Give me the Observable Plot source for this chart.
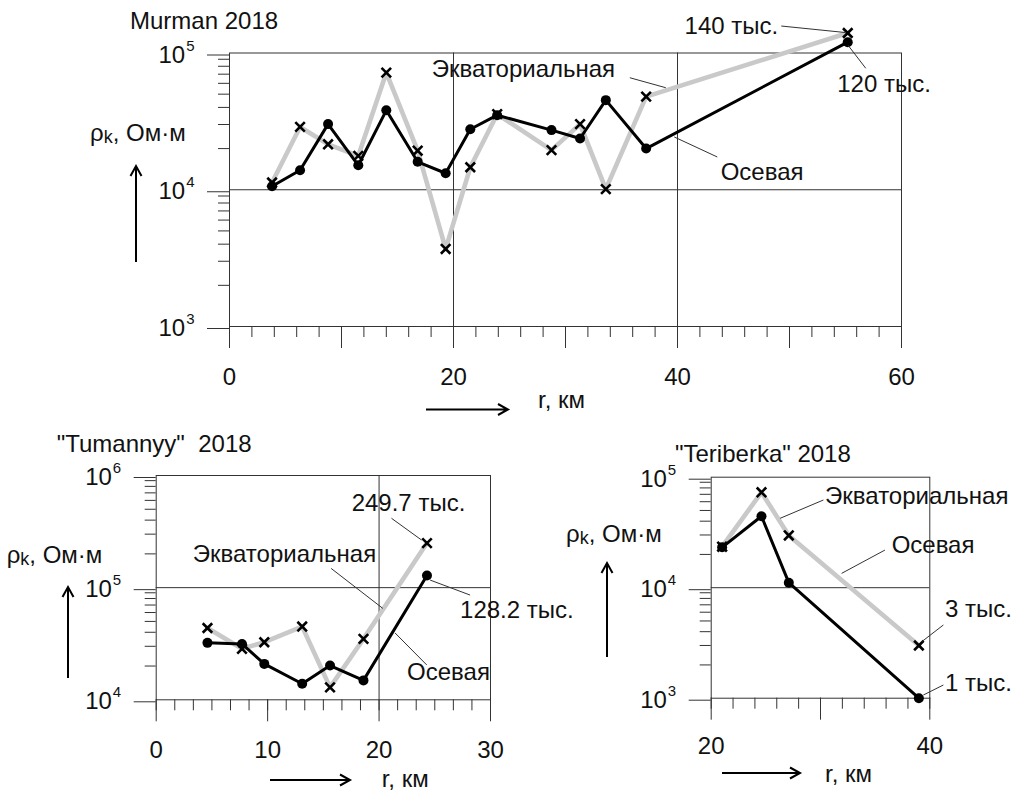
<!DOCTYPE html>
<html>
<head>
<meta charset="utf-8">
<script src="https://cdn.jsdelivr.net/npm/d3@7"></script>
<script src="https://cdn.jsdelivr.net/npm/@observablehq/plot@0.6"></script>
<style>
  html, body { margin: 0; padding: 0; background: #fff; }
  #fig { position: relative; width: 1015px; height: 791px; overflow: hidden; }
  #fig svg { position: absolute; overflow: visible; }
</style>
</head>
<body>
<div id="fig"></div>
<script>
// Apparent resistivity ρk (Ω·m) against distance r (km), two profiles per site.

// Murman 2018
const murmanR = [3.8, 6.3, 8.8, 11.5, 14.0, 16.8, 19.3, 21.5, 23.9, 28.75, 31.3, 33.6, 37.2, 55.2];
const murmanAxial = [10600, 13900, 30200, 15100, 38100, 16000, 13200, 27700, 35100, 27300, 23700, 45200, 20000, 120000];
const murmanEquatorial = [11300, 28800, 21500, 17700, 71800, 19300, 3690, 14600, 35700, 19500, 30200, 10100, 48000, 140000];

// "Tumannyy" 2018
const tumannyyR = [4.6, 7.7, 9.7, 13.1, 15.6, 18.6, 24.3];
const tumannyyAxial = [32200, 31500, 20900, 13900, 20200, 14900, 128200];
const tumannyyEquatorial = [43700, 28500, 32600, 45000, 12900, 34900, 249700];

// "Teriberka" 2018
const teriberkaR = [21.0, 24.6, 27.1, 39.0];
const teriberkaAxial = [23200, 44300, 11100, 1000];
const teriberkaEquatorial = [23500, 73000, 29700, 3000];

// Text
const yLabelMain = "ρ", yLabelSub = "k", yLabelUnit = ", Ом·м";
const xLabelText = "r, км";
const axialName = "Осевая", equatorialName = "Экваториальная";
const thousandsLabel = v => `${+(v / 1000).toFixed(1)} тыс.`;

const FONT = "'Liberation Sans', Arial, sans-serif";
const FS = 24;

const rows = (r, axial, equatorial) => r.map((d, i) => ({r: d, axial: axial[i], equatorial: equatorial[i]}));
const decadesBetween = ([lo, hi]) => d3.range(Math.round(Math.log10(lo)), Math.round(Math.log10(hi)) + 1).map(e => 10 ** e);
const minorLog = ([lo, hi]) => decadesBetween([lo, hi]).slice(0, -1).flatMap(d => d3.range(2, 10).map(k => k * d));

// Line with an arrowhead, drawn relative to the plot frame
function arrowPath(x1, y1, x2, y2) {
  const a = Math.atan2(y2 - y1, x2 - x1), L = 10, W = 5.5;
  const bx = x2 - L * Math.cos(a), by = y2 - L * Math.sin(a);
  const nx = -Math.sin(a) * W, ny = Math.cos(a) * W;
  return `M${x1},${y1}L${x2},${y2}M${bx + nx},${by + ny}L${x2},${y2}L${bx - nx},${by - ny}`;
}

// Titles, axis names and direction arrows placed around the frame
function decorations(cfg) {
  return (index, scales, values, dim) => {
    const fl = dim.marginLeft, ft = dim.marginTop, fb = dim.height - dim.marginBottom;
    const g = d3.create("svg:g").attr("font-family", FONT).attr("font-size", FS).attr("fill", "#111")
      .attr("text-anchor", "start");
    g.append("text").attr("x", fl + cfg.title[0]).attr("y", ft + cfg.title[1]).attr("dy", "0.35em")
      .attr("xml:space", "preserve").style("white-space", "pre").text(cfg.titleText);
    const yl = g.append("text").attr("x", fl + cfg.yLabel[0]).attr("y", ft + cfg.yLabel[1]).attr("dy", "0.35em");
    yl.append("tspan").text(yLabelMain);
    yl.append("tspan").attr("font-size", 18).attr("dy", 2).text(yLabelSub);
    yl.append("tspan").attr("dy", -2).text(yLabelUnit);
    g.append("path").attr("fill", "none").attr("stroke", "#000").attr("stroke-width", 2)
      .attr("d", arrowPath(fl + cfg.yArrow[0], ft + cfg.yArrow[1], fl + cfg.yArrow[0], ft + cfg.yArrow[2]));
    g.append("path").attr("fill", "none").attr("stroke", "#000").attr("stroke-width", 2)
      .attr("d", arrowPath(fl + cfg.xArrow[0], fb + cfg.xArrow[2], fl + cfg.xArrow[1], fb + cfg.xArrow[2]));
    g.append("text").attr("x", fl + cfg.xLabel[0]).attr("y", fb + cfg.xLabel[1]).attr("dy", "0.35em").text(xLabelText);
    return g.node();
  };
}

// A label with a thin leader line, anchored on a data point (or on a segment leaving it)
function callout(data, c) {
  return (index, scales) => {
    const P = i => [scales.x(data[i].r), scales.y(data[i][c.key])];
    let [px, py] = P(c.at);
    if (c.t) {
      const [qx, qy] = P(c.at + 1);
      px += (qx - px) * c.t; py += (qy - py) * c.t;
    }
    const g = d3.create("svg:g");
    g.append("line").attr("stroke", "#333").attr("stroke-width", 1)
      .attr("x1", px + c.lead[0]).attr("y1", py + c.lead[1]).attr("x2", px + c.lead[2]).attr("y2", py + c.lead[3]);
    g.append("text").attr("font-family", FONT).attr("font-size", FS).attr("fill", "#111")
      .attr("text-anchor", c.anchor).attr("x", px + c.tx).attr("y", py + c.ty).attr("dy", "0.35em").text(c.text);
    return g.node();
  };
}

function panel(cfg) {
  const data = rows(cfg.r, cfg.axial, cfg.equatorial);
  const decades = decadesBetween(cfg.yDomain);
  const xTicks = d3.range(0, Math.round((cfg.xDomain[1] - cfg.xDomain[0]) / cfg.xStep) + 1).map(i => cfg.xDomain[0] + i * cfg.xStep);
  const xLong = d3.range(cfg.xDomain[0], cfg.xDomain[1] + 1e-9, 10);
  const ink = "#333";
  const svg = Plot.plot({
    width: cfg.width, height: cfg.height,
    marginLeft: cfg.margin[0], marginTop: cfg.margin[1], marginRight: cfg.margin[2], marginBottom: cfg.margin[3],
    style: {background: "transparent", overflow: "visible", fontFamily: FONT, fontSize: FS + "px", color: "#111"},
    x: {domain: cfg.xDomain},
    y: {type: "log", domain: cfg.yDomain},
    marks: [
      Plot.gridY(cfg.yGrid, {stroke: ink, strokeOpacity: 1}),
      Plot.gridX(cfg.xGrid, {stroke: ink, strokeOpacity: 1}),
      Plot.frame({stroke: ink}),
      Plot.axisY(minorLog(cfg.yDomain), {anchor: "left", tickSize: 11, tickFormat: () => "", stroke: ink, label: null}),
      Plot.axisY(decades, {anchor: "left", tickSize: 22, tickPadding: 13, stroke: ink, label: null, dy: cfg.yTickDy,
        tickFormat: d => `10^${Math.round(Math.log10(d))}`}),
      Plot.axisX(xTicks, {anchor: "bottom", tickSize: 11, tickFormat: () => "", stroke: ink, label: null}),
      Plot.axisX(xLong, {anchor: "bottom", tickSize: 22, tickFormat: () => "", stroke: ink, label: null}),
      Plot.axisX(cfg.xLabels, {anchor: "bottom", tickSize: 0, tickPadding: cfg.xTickPad, label: null}),
      Plot.line(data, {x: "r", y: "equatorial", stroke: "#c9c9c9", strokeWidth: 4.6}),
      Plot.line(data, {x: "r", y: "axial", stroke: "#000", strokeWidth: 3}),
      Plot.dot(data, {x: "r", y: "axial", r: 5, fill: "#000"}),
      Plot.dot(data, {x: "r", y: "equatorial", symbol: "times", r: 4.4, stroke: "#000", strokeWidth: 2.6}),
      decorations(cfg.decor),
      ...cfg.callouts.map(c => callout(data, c))
    ]
  });
  // decade labels as 10 with a raised exponent
  d3.select(svg).selectAll("text").each(function () {
    const m = /^10\^(\d)$/.exec(this.textContent);
    if (m) {
      const t = d3.select(this);
      t.text("10");
      t.append("tspan").attr("font-size", 15).attr("dx", 1).attr("dy", -12).text(m[1]);
    }
  });
  svg.style.left = cfg.left + "px";
  svg.style.top = cfg.top + "px";
  document.getElementById("fig").appendChild(svg);
}

panel({
  r: murmanR, axial: murmanAxial, equatorial: murmanEquatorial,
  left: 0, top: 0, width: 1015, height: 430, margin: [229, 52.5, 114, 104],
  xDomain: [0, 60], xStep: 2, xLabels: [0, 20, 40, 60], xGrid: [20, 40], xTickPad: 41,
  yDomain: [1e3, 1e5], yGrid: [1e4], yTickDy: 2,
  decor: {titleText: "Murman 2018", title: [-99, -32], yLabel: [-139, 80.5], yArrow: [-93, 209.5, 113.5],
          xArrow: [197, 279, 83.5], xLabel: [309, 74]},
  callouts: [
    {key: "equatorial", at: 13, text: thousandsLabel(murmanEquatorial[13]), tx: -69, ty: -7, anchor: "end", lead: [-66, -6.5, -2, 0]},
    {key: "axial", at: 13, text: thousandsLabel(murmanAxial[13]), tx: -10, ty: 41.5, anchor: "start", lead: [0.6, 3.3, 18.5, 26.6]},
    {key: "equatorial", at: 12, t: 0.1, text: equatorialName, tx: -50.7, ty: -21, anchor: "end", lead: [-36, -12, 0, -2]},
    {key: "axial", at: 12, t: 0.142, text: axialName, tx: 46.4, ty: 38.5, anchor: "start", lead: [0, 4, 43, 24]}
  ]
});

panel({
  r: tumannyyR, axial: tumannyyAxial, equatorial: tumannyyEquatorial,
  left: 0, top: 420, width: 560, height: 371, margin: [155.7, 55, 70, 91.7],
  xDomain: [0, 30], xStep: 10 / 6, xLabels: [0, 10, 20, 30], xGrid: [20], xTickPad: 41,
  yDomain: [1e4, 1e6], yGrid: [1e5], yTickDy: 2,
  decor: {titleText: "\"Tumannyy\"  2018", title: [-99, -31], yLabel: [-149, 80], yArrow: [-87.7, 203, 112],
          xArrow: [114.3, 194.3, 80.7], xLabel: [226, 79]},
  callouts: [
    {key: "equatorial", at: 6, text: thousandsLabel(tumannyyEquatorial[6]), tx: -18, ty: -39.5, anchor: "middle", lead: [-35, -24.3, -5, -2.6]},
    {key: "axial", at: 6, text: thousandsLabel(tumannyyAxial[6]), tx: 33.6, ty: 35, anchor: "start", lead: [3.6, 5, 43.6, 20]},
    {key: "equatorial", at: 5, t: 0.313, text: equatorialName, tx: -6.7, ty: -54.4, anchor: "end", lead: [-51.7, -40, 0, 0]},
    {key: "axial", at: 5, t: 0.505, text: axialName, tx: 12, ty: 44.5, anchor: "start", lead: [0, 6, 31.7, 38]}
  ]
});

panel({
  r: teriberkaR, axial: teriberkaAxial, equatorial: teriberkaEquatorial,
  left: 540, top: 420, width: 475, height: 371, margin: [170.7, 56.7, 85.7, 93.3],
  xDomain: [20, 40], xStep: 2, xLabels: [20, 40], xGrid: [], xTickPad: 39,
  yDomain: [1e3, 1e5], yGrid: [1e4], yTickDy: 2,
  decor: {titleText: "\"Teriberka\" 2018", title: [-35.7, -23.4], yLabel: [-144.7, 57.3], yArrow: [-103.7, 180.3, 86.3],
          xArrow: [11.3, 89.3, 75.3], xLabel: [114.3, 75.6]},
  callouts: [
    {key: "equatorial", at: 1, t: 0.7, text: equatorialName, tx: 45, ty: -26.3, anchor: "start", lead: [0, -3.7, 43.3, -22]},
    {key: "equatorial", at: 2, t: 0.41, text: axialName, tx: 50, ty: -35, anchor: "start", lead: [0, -6.7, 43.3, -30]},
    {key: "equatorial", at: 3, text: thousandsLabel(teriberkaEquatorial[3]), tx: 26.7, ty: -36, anchor: "start", lead: [25, -20, 3.4, -3.3]},
    {key: "axial", at: 3, text: thousandsLabel(teriberkaAxial[3]), tx: 26.7, ty: -15, anchor: "start", lead: [25, -12.7, 5, -2.7]}
  ]
});
</script>
</body>
</html>
